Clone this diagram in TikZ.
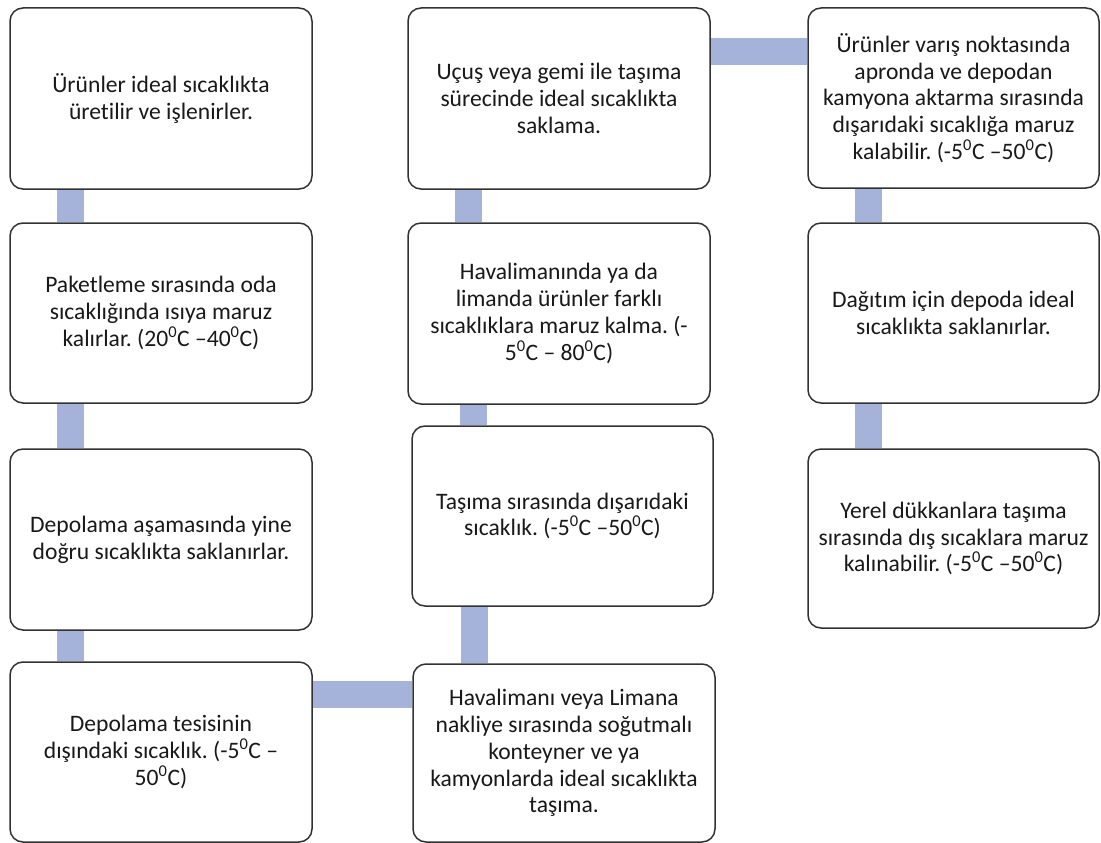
\documentclass[tikz,border=0pt]{standalone}
\usepackage{fontspec}
\setmainfont[Ligatures=NoCommon]{Carlito}
\frenchspacing
\usetikzlibrary{backgrounds}
\definecolor{connc}{RGB}{165,178,218}
\definecolor{boxline}{RGB}{50,50,50}
\definecolor{txt}{RGB}{25,25,25}
\newcommand{\dg}{\textsuperscript{0}}
\begin{document}
\begin{tikzpicture}[x=1pt,y=-1pt,
  stage/.style={draw=boxline,line width=1.5pt,fill=white,rounded corners=13pt,
    inner sep=0pt,align=center,text=txt,
    font=\fontsize{23.6}{26.8}\selectfont},
  conn/.style={draw=connc,line width=27pt}]
\useasboundingbox (0,0) rectangle (1101,843);
% column 1
\node[stage,minimum width=302,minimum height=181] (b1) at (161,98.5) {Ürünler ideal sıcaklıkta\\üretilir ve işlenirler.};
\node[stage,minimum width=302,minimum height=180] (b2) at (161,313) {Paketleme sırasında oda\\sıcaklığında ısıya maruz\\kalırlar. (20\dg C –40\dg C)};
\node[stage,minimum width=302,minimum height=181] (b3) at (161,539.5) {Depolama aşamasında yine\\doğru sıcaklıkta saklanırlar.};
\node[stage,minimum width=302,minimum height=180] (b4) at (161,752) {Depolama tesisinin\\dışındaki sıcaklık. (-5\dg C –\\50\dg C)};
% column 2
\node[stage,minimum width=302,minimum height=181] (b5) at (559,98.5) {Uçuş veya gemi ile taşıma\\sürecinde ideal sıcaklıkta\\saklama.};
\node[stage,minimum width=302,minimum height=181] (b6) at (559,313.5) {Havalimanında ya da\\limanda ürünler farklı\\sıcaklıklara maruz kalma. (-\\5\dg C – 80\dg C)};
\node[stage,minimum width=301,minimum height=180] (b7) at (562.5,516) {Taşıma sırasında dışarıdaki\\sıcaklık. (-5\dg C –50\dg C)};
\node[stage,minimum width=302,minimum height=178] (b8) at (564,753) {Havalimanı veya Limana\\nakliye sırasında soğutmalı\\konteyner ve ya\\kamyonlarda ideal sıcaklıkta\\taşıma.};
% column 3
\node[stage,minimum width=291,minimum height=180] (b9) at (953.5,98) {Ürünler varış noktasında\\apronda ve depodan\\kamyona aktarma sırasında\\dışarıdaki sıcaklığa maruz\\kalabilir. (-5\dg C –50\dg C)};
\node[stage,minimum width=291,minimum height=180] (b10) at (953.5,313) {Dağıtım için depoda ideal\\sıcaklıkta saklanırlar.};
\node[stage,minimum width=291,minimum height=179] (b11) at (953.5,538.5) {Yerel dükkanlara taşıma\\sırasında dış sıcaklara maruz\\kalınabilir. (-5\dg C –50\dg C)};
% connectors
\begin{scope}[on background layer]
\draw[conn] ([xshift=61.5pt]b1.south west) -- ([xshift=61.5pt]b1.south west |- b2.north);
\draw[conn] ([xshift=61.5pt]b2.south west) -- ([xshift=61.5pt]b2.south west |- b3.north);
\draw[conn] ([xshift=61.5pt]b3.south west) -- ([xshift=61.5pt]b3.south west |- b4.north);
\draw[conn] ([yshift=-33pt]b4.north east) -- ([yshift=-33pt]b4.north east -| b8.west);
\draw[conn] ([xshift=62pt]b8.north west) -- ([xshift=62pt]b8.north west |- b7.south);
\draw[conn] ([xshift=62.5pt]b7.north west) -- ([xshift=62.5pt]b7.north west |- b6.south);
\draw[conn] ([xshift=61.5pt]b6.north west) -- ([xshift=61.5pt]b6.north west |- b5.south);
\draw[conn] ([yshift=-44.5pt]b5.north east) -- ([yshift=-44.5pt]b5.north east -| b9.west);
\draw[conn] ([xshift=61pt]b9.south west) -- ([xshift=61pt]b9.south west |- b10.north);
\draw[conn] ([xshift=61pt]b10.south west) -- ([xshift=61pt]b10.south west |- b11.north);
\end{scope}
\end{tikzpicture}
\end{document}
